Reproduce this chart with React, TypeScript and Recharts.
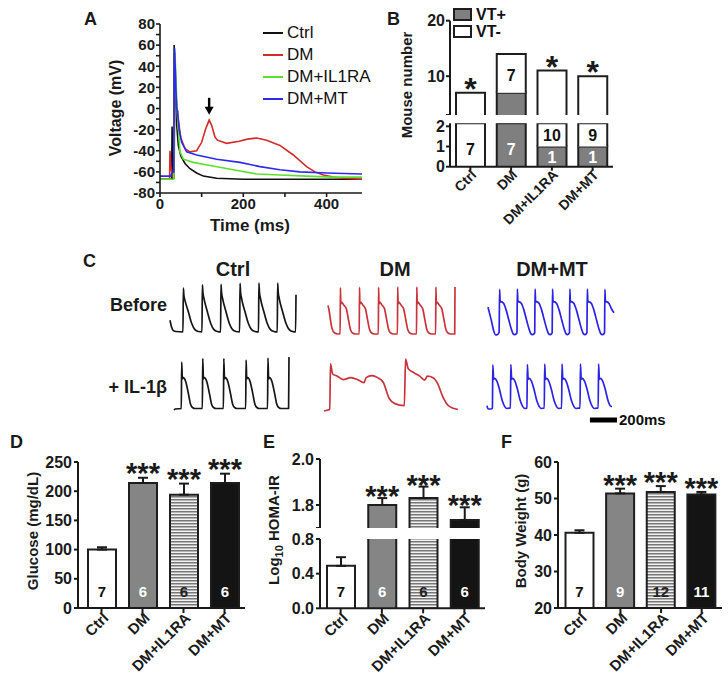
import React from 'react';
import {
  LineChart, Line, BarChart, Bar, XAxis, YAxis, ErrorBar, LabelList,
  ReferenceDot, ReferenceLine, Legend, Cell, Label,
} from 'recharts';

const FONT = '"Liberation Sans", Arial, Helvetica, sans-serif';
const INK = '#1a1a1a';

// ---------------- Panel A: action potentials (ms, mV) ----------------
const apCtrl: number[][] = [[0,-67],[28,-67],[29,-17],[30,-40],[31,-66],[33,-66],[34,60],[36,30],[40,-15],[44,-35],[50,-45],[60,-52],[72,-57],[88,-61],[104,-64],[136,-66],[200,-67],[485,-67]];
const apDM: number[][] = [[0,-67],[23,-67],[24,-40],[26,-55],[30,-64],[34,-60],[36,45],[39,10],[43,-8],[50,-28],[60,-38],[72,-41],[88,-40],[100,-32],[110,-19],[118,-11],[124,-16],[132,-27],[138,-30],[160,-33],[190,-31],[210,-29],[232,-28],[256,-30],[288,-35],[320,-44],[352,-55],[372,-60],[392,-63],[416,-65],[440,-66],[485,-67]];
const apIL1RA: number[][] = [[0,-67],[33,-67],[36,53],[39,20],[42,-7],[48,-41],[56,-48],[80,-51],[120,-54],[176,-58],[232,-62],[288,-63],[352,-64],[416,-65],[485,-65]];
const apMT: number[][] = [[0,-64],[26,-64],[30,-60],[33,-60],[35,57],[38,20],[40,0],[42,-2],[46,-20],[52,-32],[64,-41],[88,-44],[136,-48],[192,-51],[240,-55],[288,-58],[336,-60],[400,-61],[485,-62]];
const apSeries = [
  { name: 'Ctrl', color: '#111111', points: apCtrl },
  { name: 'DM', color: '#d42a2a', points: apDM },
  { name: 'DM+IL1RA', color: '#5ce02c', points: apIL1RA },
  { name: 'DM+MT', color: '#2b2bec', points: apMT },
];
const apYTicks = [-80,-70,-60,-50,-40,-30,-20,-10,0,10,20,30,40,50,60,70,80];
const apXTicks = [0, 100, 200, 300, 400];
const apArrow = { t: 118, v: -6 };

// ---------------- Categories ----------------
const categories = ['Ctrl', 'DM', 'DM+IL1RA', 'DM+MT'];

// ---------------- Panel B: VT incidence ----------------
const vtPositive = [0, 7, 1, 1];
const vtNegative = [7, 7, 10, 9];
const vtSignificance = ['*', '', '*', '*'];
const vtUpperLabels = ['', '7', '', ''];
const vtLowerNegLabels = ['7', '', '10', '9'];
const vtLowerPosLabels = ['', '7', '1', '1'];

// ---------------- Panel C: optical AP traces (ms, mV) ----------------
const ctrlBefore: number[][] = [[0,-45],[12,-60],[25,-67],[45,-69],[96,-70],
  [99,23],[103,8],[111,-3],[136,-27],[161,-52],[185,-65],[210,-69],[237,-70],
  [240,30],[244,14],[252,1],[277,-27],[302,-52],[326,-65],[351,-69],[375,-70],
  [378,31],[382,14],[390,1],[415,-27],[440,-52],[464,-65],[489,-69],[516,-70],
  [519,33],[523,15],[531,1],[556,-27],[581,-52],[605,-65],[630,-69],[656,-70],
  [659,34],[663,15],[671,1],[696,-27],[721,-52],[745,-65],[770,-69],[795,-70],
  [798,34],[802,15],[810,1],[835,-27],[860,-52],[884,-65],[909,-69],[931,-70],
  [934,9]];
const dmBefore: number[][] = [[0,-9],[8,-20],[17,-38],[30,-59],[49,-68],[70,-70],[89,-70],
  [91,28],[94,-6],[99,-2],[114,-8],[134,-16],[149,-38],[164,-60],[179,-68],[199,-70],[229,-70],
  [231,29],[234,-6],[239,-2],[254,-8],[274,-16],[289,-38],[304,-60],[319,-68],[339,-70],[369,-70],
  [371,29],[374,-6],[379,-2],[394,-8],[414,-16],[429,-38],[444,-60],[459,-68],[479,-70],[509,-70],
  [511,30],[514,-6],[519,-2],[534,-8],[554,-16],[569,-38],[584,-60],[599,-68],[619,-70],[649,-70],
  [651,30],[654,-6],[659,-2],[674,-8],[694,-16],[709,-38],[724,-60],[739,-68],[759,-70],[789,-70],
  [791,30],[794,-6],[799,-2],[814,-8],[834,-16],[849,-38],[864,-60],[879,-68],[899,-70],[929,-70],
  [931,30]];
const mtBefore: number[][] = [[0,-8],[12,-22],[25,-37],[42,-59],[57,-68],[70,-67],[82,-62],
  [86,30],[90,3],[96,4],[116,0],[135,-15],[155,-37],[172,-55],[185,-65],[197,-67],[210,-65],[214,-63],
  [217,31],[221,3],[227,4],[247,0],[266,-15],[286,-37],[303,-55],[316,-65],[328,-67],[341,-65],[345,-63],
  [348,31],[352,3],[358,4],[378,0],[397,-15],[417,-37],[434,-55],[447,-65],[459,-67],[470,-65],[474,-63],
  [477,31],[481,3],[487,4],[507,0],[526,-15],[546,-37],[563,-55],[576,-65],[588,-67],[598,-65],[602,-63],
  [605,31],[609,3],[615,4],[635,0],[654,-15],[674,-37],[691,-55],[704,-65],[716,-67],[727,-65],[731,-63],
  [734,31],[738,3],[744,4],[764,0],[783,-15],[803,-37],[820,-55],[833,-65],[845,-67],[857,-65],[861,-63],
  [864,30],[868,3],[874,4],[894,0],[913,-12],[931,-20]];
const ctrlAfter: number[][] = [[0,-72],[8,-70],[54,-69],
  [57,23],[62,-10],[69,-8],[87,-16],[107,-40],[122,-60],[137,-67],[157,-69],[210,-69],
  [213,30],[218,-10],[225,-8],[243,-16],[263,-40],[278,-60],[293,-67],[313,-69],[366,-69],
  [369,30],[374,-10],[381,-8],[399,-16],[419,-40],[434,-60],[449,-67],[469,-69],[531,-69],
  [534,27],[539,-10],[546,-8],[564,-16],[584,-40],[599,-60],[614,-67],[634,-69],[693,-69],
  [696,31],[701,-10],[708,-8],[726,-16],[746,-40],[761,-60],[776,-67],[796,-69],[849,-69],
  [852,33]];
const dmAfter: number[][] = [[0,-73],[28,-71],[43,-70],[48,23],[65,2],[99,-2],[142,-9],[199,-5],[256,-10],[298,-15],[312,-5],[355,-1],[398,-5],[440,-15],[483,-47],[525,-58],[596,-62],
  [605,33],[625,13],[667,5],[710,-2],[747,-10],[767,-2],[809,-5],[843,-17],[880,-43],[923,-62],[994,-70]];
const mtAfter: number[][] = [[0,-65],[8,-72],[30,-72],[40,-70],
  [43,20],[49,-10],[57,-8],[73,-14],[93,-32],[113,-55],[131,-67],[148,-71],[163,-70],[173,-70],
  [176,21],[182,-10],[190,-8],[206,-14],[226,-32],[246,-55],[264,-67],[281,-71],[295,-70],
  [298,21],[304,-10],[312,-8],[328,-14],[348,-32],[368,-55],[386,-67],[403,-71],[418,-70],[423,-70],
  [426,22],[432,-10],[440,-8],[456,-14],[476,-32],[496,-55],[514,-67],[531,-71],[546,-70],[551,-70],
  [554,22],[560,-10],[568,-8],[584,-14],[604,-32],[624,-55],[642,-67],[659,-71],[674,-70],[687,-70],
  [690,22],[696,-10],[704,-8],[720,-14],[740,-32],[760,-55],[778,-67],[795,-71],[810,-70],[821,-70],
  [824,22],[830,-10],[838,-8],[854,-14],[874,-32],[894,-55],[912,-66],[923,-67]];
const scaleBarStart = 760;
const scaleBarMs = 200;

// ---------------- Panels D-F ----------------
const glucoseMean = [100, 214, 194, 214];
const glucoseSem = [4, 9, 19, 16];
const glucoseN = ['7', '6', '6', '6'];
const homaMean = [0.49, 1.80, 1.83, 1.735];
const homaSem = [0.10, 0.03, 0.05, 0.055];
const homaN = ['7', '6', '6', '6'];
const weightMean = [40.6, 51.4, 51.8, 51.1];
const weightSem = [0.7, 1.3, 1.6, 0.7];
const weightN = ['7', '9', '12', '11'];
const significance = ['', '***', '***', '***'];

const barFills = ['#ffffff', '#858585', 'url(#il1raStripes)', '#141414'];
const nColors = ['#111111', '#ffffff', '#222222', '#ffffff'];

// ---------------- helpers ----------------
const toRows = (pts: number[][]) => pts.map(([t, v]) => ({ t, v }));

const labelBox = (p: any) => {
  const vb = p.viewBox;
  if (vb && typeof vb.x === 'number' && typeof vb.width === 'number') return vb;
  return { x: p.x, y: p.y, width: p.width, height: p.height };
};

const OpenBar = (props: any) => {
  const { x, y, width, height, fill } = props;
  if (!(height > 0) || !(width > 0)) return null;
  return (
    <g>
      <rect x={x} y={y} width={width} height={height} fill={fill} />
      <path d={`M${x},${y + height} V${y} H${x + width} V${y + height}`} fill="none" stroke="#1e1e1e" strokeWidth={2} />
    </g>
  );
};
const FilledBar = (props: any) => {
  let idx = props.index;
  if (idx == null && props.payload) idx = categories.indexOf(props.payload.cat);
  return <OpenBar {...props} fill={barFills[idx] ?? props.fill} />;
};

const makeRotTick = (fs: number, dx: number, dy: number) => (p: any) => {
  const x = p.x + dx;
  const y = p.y + dy;
  return (
    <text x={x} y={y} transform={`rotate(-45 ${x} ${y})`} textAnchor="end" fontSize={fs} fontWeight={700} fontFamily={FONT} fill={INK}>
      {p.payload.value}
    </text>
  );
};

const bNumberLabel = (color: string) => (p: any) => {
  if (!p.value) return null;
  const { x, y, width, height } = labelBox(p);
  const base = Math.max(y + height / 2 + 6, y + height - 12);
  return (
    <text x={x + width / 2} y={base} textAnchor="middle" fill={color} fontSize={16} fontWeight={700} fontFamily={FONT}>{p.value}</text>
  );
};
const bStarLabel = (p: any) => {
  if (!p.value) return null;
  const { x, y, width } = labelBox(p);
  return (
    <text x={x + width / 2} y={y + 7} textAnchor="middle" fill={INK} fontSize={32} fontWeight={700} fontFamily={FONT}>{p.value}</text>
  );
};
const starLabel = (means: number[], sems: number[], base: number, gap: number) => (p: any) => {
  if (!p.value) return null;
  const { x, y, width, height } = labelBox(p);
  const i = p.index;
  const ppu = height / (means[i] - base);
  const top = y - sems[i] * ppu;
  return (
    <text x={x + width / 2} y={top + gap} textAnchor="middle" fill={INK} fontSize={29} fontWeight={700} fontFamily={FONT}>{p.value}</text>
  );
};
const nLabel = (p: any) => {
  if (!p.value) return null;
  const { x, y, width, height } = labelBox(p);
  return (
    <text x={x + width / 2} y={y + height - 11} textAnchor="middle" fill={nColors[p.index] ?? INK} fontSize={15} fontWeight={700} fontFamily={FONT}>{p.value}</text>
  );
};

const tickStyle = (fs: number) => ({ fill: INK, fontSize: fs, fontWeight: 700, fontFamily: FONT });
const axisLine = (w: number) => ({ stroke: INK, strokeWidth: w });

const ArrowShape = (p: any) => {
  const { cx, cy } = p;
  if (cx == null || cy == null) return null;
  return (
    <g>
      <rect x={cx - 1.2} y={cy - 17} width={2.4} height={10} fill="#000" />
      <path d={`M${cx - 4.5},${cy - 8} L${cx + 4.5},${cy - 8} L${cx},${cy} Z`} fill="#000" />
    </g>
  );
};

const Pos = ({ left, top, children }: any) => (
  <div style={{ position: 'absolute', left, top }}>{children}</div>
);

// trace chart for panel C
const Trace = ({ pts, color, x, y, w, h, yDomain, extraRight = 0, extraBottom = 0, children }: any) => (
  <Pos left={x - 2} top={y - 2}>
    <LineChart width={w + 4 + extraRight} height={h + 4 + extraBottom} data={toRows(pts)}
      margin={{ top: 2, right: 2 + extraRight, bottom: 2 + extraBottom, left: 2 }}>
      <XAxis type="number" dataKey="t" domain={['dataMin', 'dataMax']} hide />
      <YAxis type="number" domain={yDomain ?? ['dataMin', 'dataMax']} hide />
      <Line type="monotone" dataKey="v" stroke={color} strokeWidth={1.7} dot={false} isAnimationActive={false} />
      {children}
    </LineChart>
  </Pos>
);

// stat bar chart (panels D, E, F)
const StatChart = ({ x, y, w, h, margin, yWidth, domain, ticks, fmt, rows, means, sems, base, starGap, showX, showN, clip, padLeft }: any) => (
  <Pos left={x} top={y}>
    <BarChart width={w} height={h} data={rows} margin={margin} barSize={28}>
      <XAxis dataKey="cat" hide={!showX} interval={0} height={showX ? 70 : 0}
        tick={makeRotTick(15, 8, 4)} tickSize={5} tickMargin={2}
        axisLine={axisLine(2)} tickLine={axisLine(2)} padding={{ left: padLeft ?? 0, right: 0 }} />
      <YAxis type="number" domain={domain} ticks={ticks} interval={0} allowDataOverflow={!!clip}
        width={yWidth} tickFormatter={fmt} tick={tickStyle(16)} tickSize={4} tickMargin={2}
        axisLine={axisLine(2)} tickLine={axisLine(2)} />
      <Bar dataKey="mean" fill="#fff" shape={FilledBar} isAnimationActive={false}>
        {categories.map((c, i) => <Cell key={c} fill={barFills[i]} />)}
        <ErrorBar dataKey="err" direction="y" width={5} stroke={INK} strokeWidth={2} isAnimationActive={false} />
        {showN ? <LabelList dataKey="n" content={nLabel} /> : null}
        <LabelList dataKey="sig" content={starLabel(means, sems, base, starGap)} />
      </Bar>
    </BarChart>
  </Pos>
);

export default function App() {
  const bRows = categories.map((cat, i) => ({
    cat, pos: vtPositive[i], neg: vtNegative[i], sig: vtSignificance[i],
    upperLabel: vtUpperLabels[i], lowerNeg: vtLowerNegLabels[i], lowerPos: vtLowerPosLabels[i],
  }));
  const dRows = categories.map((cat, i) => ({ cat, mean: glucoseMean[i], err: [0, glucoseSem[i]], n: glucoseN[i], sig: significance[i] }));
  const eUpperRows = categories.map((cat, i) => ({ cat, mean: homaMean[i], err: homaMean[i] >= 1.7 ? [0, homaSem[i]] : null, n: '', sig: homaMean[i] >= 1.7 ? significance[i] : '' }));
  const eLowerRows = categories.map((cat, i) => ({ cat, mean: homaMean[i], err: homaMean[i] <= 0.8 ? [0, homaSem[i]] : null, n: homaN[i], sig: '' }));
  const fRows = categories.map((cat, i) => ({ cat, mean: weightMean[i], err: [0, weightSem[i]], n: weightN[i], sig: significance[i] }));

  const tStyle: any = { fontFamily: FONT, fontWeight: 700, fill: INK };

  return (
    <div style={{ position: 'absolute', left: 0, top: 0, width: 728, height: 692, background: '#fff', overflow: 'hidden', fontFamily: FONT }}>
      <svg width={0} height={0} style={{ position: 'absolute' }}>
        <defs>
          <pattern id="il1raStripes" width={6} height={3} patternUnits="userSpaceOnUse">
            <rect width={6} height={3} fill="#f2f2f2" />
            <rect width={6} height={1.5} fill="#777777" />
          </pattern>
        </defs>
      </svg>

      {/* Panel A */}
      <Pos left={80} top={0}>
        <LineChart width={300} height={240} margin={{ top: 24, right: 18, bottom: 7, left: 30 }}>
          <XAxis type="number" dataKey="t" domain={[0, 485]} ticks={apXTicks} interval={0} allowDataOverflow
            tickFormatter={(v: number) => (v % 200 === 0 ? String(v) : '')} height={40}
            tick={tickStyle(15)} tickSize={4} tickMargin={1} axisLine={axisLine(1.6)} tickLine={axisLine(1.6)} />
          <YAxis type="number" domain={[-80, 80]} ticks={apYTicks} interval={0} allowDataOverflow width={50}
            tickFormatter={(v: number) => (v % 20 === 0 ? String(v) : '')}
            tick={tickStyle(15)} tickSize={4} tickMargin={1} axisLine={axisLine(1.6)} tickLine={axisLine(1.6)} />
          {apSeries.map((s) => (
            <Line key={s.name} name={s.name} data={toRows(s.points)} dataKey="v" type="linear"
              stroke={s.color} strokeWidth={1.6} dot={false} isAnimationActive={false} />
          ))}
          <ReferenceDot x={apArrow.t} y={apArrow.v} r={3} shape={ArrowShape} ifOverflow="visible" />
          <Legend layout="vertical" align="center" verticalAlign="middle"
            wrapperStyle={{ left: 183, top: 22, width: 'auto', height: 'auto' }}
            content={() => (
              <div style={{ fontFamily: FONT, fontSize: 17, color: '#111' }}>
                {apSeries.map((s) => (
                  <div key={s.name} style={{ display: 'flex', alignItems: 'center', height: 22 }}>
                    <svg width={20} height={4}><line x1={0} y1={2} x2={20} y2={2} stroke={s.color} strokeWidth={2} /></svg>
                    <span style={{ marginLeft: 4, whiteSpace: 'nowrap' }}>{s.name}</span>
                  </div>
                ))}
              </div>
            )} />
        </LineChart>
      </Pos>

      {/* Panel B upper */}
      <Pos left={400} top={0}>
        <BarChart width={215} height={115} data={bRows} margin={{ top: 20.7, right: 2, bottom: 0, left: 20 }} barSize={29}>
          <XAxis dataKey="cat" hide />
          <YAxis type="number" domain={[3, 20]} ticks={[3, 10, 20]} interval={0} allowDataOverflow width={30}
            tickFormatter={(v: number) => (v === 3 ? '' : String(v))}
            tick={tickStyle(16)} tickSize={4} tickMargin={1} axisLine={axisLine(2)} tickLine={axisLine(2)} />
          <Bar dataKey="pos" stackId="vt" fill="#7f7f7f" shape={OpenBar} isAnimationActive={false} />
          <Bar dataKey="neg" stackId="vt" fill="#ffffff" shape={OpenBar} isAnimationActive={false}>
            <LabelList dataKey="upperLabel" content={bNumberLabel('#111')} />
            <LabelList dataKey="sig" content={bStarLabel} />
          </Bar>
          <Legend layout="vertical" align="center" verticalAlign="middle"
            wrapperStyle={{ left: 53, top: 6, width: 'auto', height: 'auto' }}
            content={() => (
              <div style={{ fontFamily: FONT, fontSize: 16, fontWeight: 700, color: '#111' }}>
                {[{ label: 'VT+', fill: '#7f7f7f' }, { label: 'VT-', fill: '#ffffff' }].map((it) => (
                  <div key={it.label} style={{ display: 'flex', alignItems: 'center', height: 17 }}>
                    <span style={{ width: 15, height: 9, background: it.fill, border: '2px solid #1e1e1e', display: 'inline-block' }} />
                    <span style={{ marginLeft: 4 }}>{it.label}</span>
                  </div>
                ))}
              </div>
            )} />
        </BarChart>
      </Pos>

      {/* Panel B lower */}
      <Pos left={390} top={100}>
        <BarChart width={225} height={150} data={bRows} margin={{ top: 23.3, right: 2, bottom: 33.3, left: 30 }} barSize={29}>
          <XAxis dataKey="cat" interval={0} height={50} tick={makeRotTick(14, 7, 3)} tickSize={4} tickMargin={2}
            axisLine={axisLine(2)} tickLine={axisLine(2)} />
          <YAxis type="number" domain={[0, 2.15]} ticks={[0, 1, 2]} interval={0} allowDataOverflow width={30}
            tick={tickStyle(16)} tickSize={4} tickMargin={1} axisLine={axisLine(2)} tickLine={axisLine(2)} />
          <Bar dataKey="pos" stackId="vt" fill="#7f7f7f" shape={OpenBar} isAnimationActive={false}>
            <LabelList dataKey="lowerPos" content={bNumberLabel('#ffffff')} />
          </Bar>
          <Bar dataKey="neg" stackId="vt" fill="#ffffff" shape={OpenBar} isAnimationActive={false}>
            <LabelList dataKey="lowerNeg" content={bNumberLabel('#111')} />
          </Bar>
        </BarChart>
      </Pos>

      {/* Panel C traces */}
      <Trace pts={ctrlBefore} color="#161616" x={170} y={283} w={126} h={49} />
      <Trace pts={dmBefore} color="#c9343c" x={328} y={287} w={127} h={47} />
      <Trace pts={mtBefore} color="#2b22e6" x={488} y={289} w={126} h={46} />
      <Trace pts={ctrlAfter} color="#161616" x={174} y={357} w={115} h={53} />
      <Trace pts={dmAfter} color="#c9343c" x={324} y={359} w={134} h={52} />
      <Trace pts={mtAfter} color="#2b22e6" x={487} y={364} w={125} h={56} yDomain={[-95, 22]} extraRight={72} extraBottom={5}>
        <ReferenceLine segment={[{ x: scaleBarStart, y: -95 }, { x: scaleBarStart + scaleBarMs, y: -95 }]}
          stroke="#000" strokeWidth={5} ifOverflow="visible">
          <Label value="200ms" position="right" offset={2} fill="#111" fontSize={15} fontWeight={700} fontFamily={FONT} />
        </ReferenceLine>
      </Trace>

      {/* Panel D */}
      <StatChart x={0} y={430} w={250} h={262} margin={{ top: 32, right: 5, bottom: 14, left: 38 }} yWidth={40}
        domain={[0, 250]} ticks={[0, 50, 100, 150, 200, 250]} fmt={(v: number) => String(v)}
        rows={dRows} means={glucoseMean} sems={glucoseSem} base={0} starGap={5} showX showN padLeft={3} />

      {/* Panel E upper */}
      <StatChart x={240} y={430} w={250} h={98} margin={{ top: 29, right: 5, bottom: 0, left: 40 }} yWidth={40}
        domain={[1.7, 2.0]} ticks={[1.7, 1.8, 2.0]} fmt={(v: number) => (Math.abs(v - 1.7) < 1e-9 ? '' : v.toFixed(1))}
        rows={eUpperRows} means={homaMean} sems={homaSem} base={1.7} starGap={8} clip />
      {/* Panel E lower */}
      <StatChart x={240} y={520} w={250} h={172} margin={{ top: 19, right: 5, bottom: 13.7, left: 40 }} yWidth={40}
        domain={[0, 0.8]} ticks={[0, 0.4, 0.8]} fmt={(v: number) => v.toFixed(1)}
        rows={eLowerRows} means={homaMean} sems={homaSem} base={0} starGap={8} showX showN clip />

      {/* Panel F */}
      <StatChart x={480} y={430} w={248} h={262} margin={{ top: 32, right: 6, bottom: 14, left: 38 }} yWidth={40}
        domain={[20, 60]} ticks={[20, 30, 40, 50, 60]} fmt={(v: number) => String(v)}
        rows={fRows} means={weightMean} sems={weightSem} base={20} starGap={6} showX showN padLeft={1.5} />

      {/* Text overlay: panel letters, axis titles, panel C labels */}
      <svg width={728} height={692} style={{ position: 'absolute', left: 0, top: 0, pointerEvents: 'none' }}>
        <g style={tStyle} fontSize={18}>
          <text x={84} y={25}>A</text>
          <text x={387} y={25}>B</text>
          <text x={83} y={267}>C</text>
          <text x={10} y={448}>D</text>
          <text x={263} y={448}>E</text>
          <text x={501} y={448}>F</text>
        </g>
        <text x={121} y={108} transform="rotate(-90 121 108)" textAnchor="middle" fontSize={16} {...tStyle}>Voltage (mV)</text>
        <text x={250} y={231} textAnchor="middle" fontSize={17} {...tStyle}>Time (ms)</text>
        <text x={412} y={85} transform="rotate(-90 412 85)" textAnchor="middle" fontSize={15} {...tStyle}>Mouse number</text>
        <text x={233} y={276} textAnchor="middle" fontSize={20} {...tStyle}>Ctrl</text>
        <text x={395} y={276} textAnchor="middle" fontSize={20} {...tStyle}>DM</text>
        <text x={552} y={276} textAnchor="middle" fontSize={20} {...tStyle}>DM+MT</text>
        <text x={167} y={311} textAnchor="end" fontSize={18} {...tStyle}>Before</text>
        <text x={167} y={393} textAnchor="end" fontSize={18} {...tStyle}>+ IL-1β</text>
        <text x={38} y={531} transform="rotate(-90 38 531)" textAnchor="middle" fontSize={15} {...tStyle}>Glucose (mg/dL)</text>
        <text x={279} y={530} transform="rotate(-90 279 530)" textAnchor="middle" fontSize={15} {...tStyle}>
          Log<tspan fontSize={11} dy={4}>10</tspan><tspan dy={-4}> HOMA-IR</tspan>
        </text>
        <text x={526} y={531} transform="rotate(-90 526 531)" textAnchor="middle" fontSize={15} {...tStyle}>Body Weight (g)</text>
      </svg>
    </div>
  );
}
